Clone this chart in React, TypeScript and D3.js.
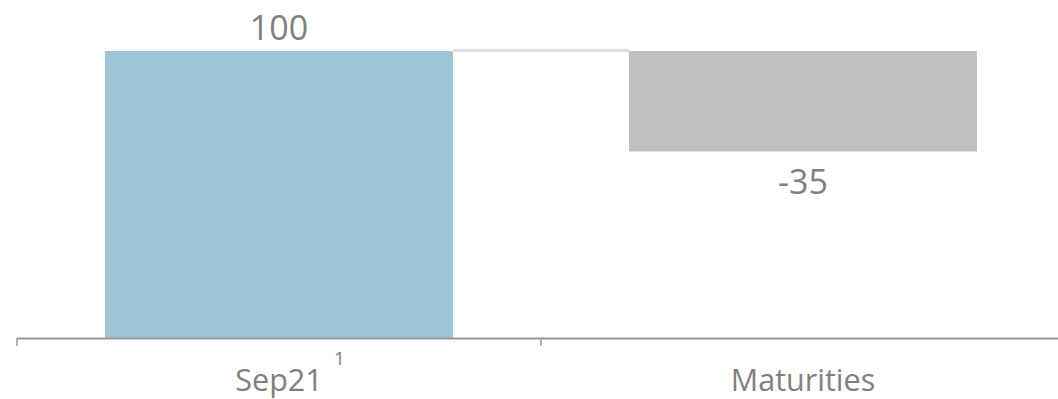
import React from "react";
import * as d3 from "d3";

const categories = ["Sep21", "Maturities"];
const values = [100, -35];
const superscripts = ["1", ""];
const colors = ["#9EC4D5", "#BFBFBF"];

const W = 1058;
const H = 399;

export default function App() {
  const x = d3.scaleBand<string>().domain(categories).range([17, 1065]).paddingInner(0.336).paddingOuter(0.168);
  const y = d3.scaleLinear().domain([0, 100]).range([338, 51]);

  let cum = 0;
  const bars = values.map((v, i) => {
    const start = i === 0 ? 0 : cum;
    const end = i === 0 ? v : cum + v;
    cum = end;
    return { cat: categories[i], v, start, end, color: colors[i], sup: superscripts[i] };
  });
  const step = x.step();
  const ticks = [17, 17 + step, 17 + 2 * step];

  return (
    <svg width={W} height={H} style={{ position: "absolute", left: 0, top: 0 }} fontFamily="'Open Sans', sans-serif">
      {bars.map((b) => {
        const x0 = x(b.cat)!;
        const top = y(Math.max(b.start, b.end));
        const bot = y(Math.min(b.start, b.end));
        return (
          <g key={b.cat}>
            <rect x={x0} y={top} width={x.bandwidth()} height={bot - top} fill={b.color} />
            <text
              x={x0 + x.bandwidth() / 2}
              y={b.v >= 0 ? top - 11 : bot + 43}
              textAnchor="middle"
              fontSize={34}
              fill="#808080"
            >
              {b.v}
            </text>
          </g>
        );
      })}
      {bars.slice(0, -1).map((b, i) => {
        const x1 = x(b.cat)! + x.bandwidth();
        const x2 = x(bars[i + 1].cat)!;
        return <line key={"c" + i} x1={x1} x2={x2} y1={y(b.end) - 0.5} y2={y(b.end) - 0.5} stroke="#e0e0e0" strokeWidth={3} />;
      })}
      <line x1={17} x2={1065} y1={338.5} y2={338.5} stroke="#999" strokeWidth={2} />
      {ticks.map((t, i) => (
        <line key={"t" + i} x1={t} x2={t} y1={338} y2={346} stroke="#999" strokeWidth={1.5} />
      ))}
      {bars.map((b) => {
        const cx = x(b.cat)! + x.bandwidth() / 2;
        return (
          <g key={"l" + b.cat}>
            <text x={cx} y={391} textAnchor="middle" fontSize={30.5} fill="#808080">
              {b.cat}
            </text>
            {b.sup ? (
              <text x={cx + 55} y={365} fontSize={19} fill="#808080">
                {b.sup}
              </text>
            ) : null}
          </g>
        );
      })}
    </svg>
  );
}
